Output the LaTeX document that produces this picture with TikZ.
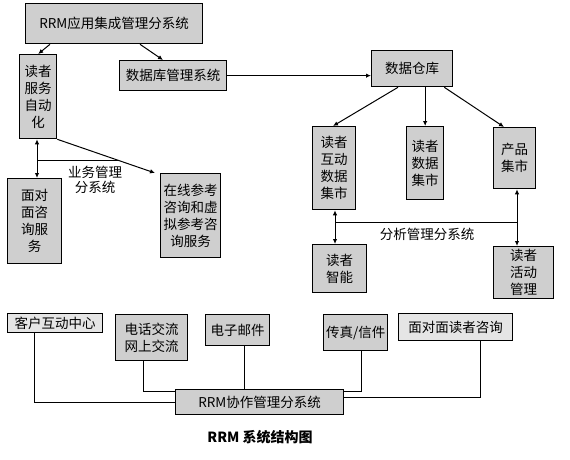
\documentclass[tikz,border=0pt]{standalone}
\usepackage{fontspec}
\newfontfamily\cjk{Noto Sans CJK SC}
\usetikzlibrary{arrows.meta,positioning}

\begin{document}
\begin{tikzpicture}[x=1pt, y=-1pt,
    box/.style={draw, line width=1.3pt, fill=gray!38, align=center, inner sep=1pt, anchor=north west, font=\cjk\fontsize{13.5}{17}\selectfont},
    lightbox/.style={box, fill=gray!20},
    arrow/.style={-{Latex[length=5pt,width=4.5pt]}, line width=1pt},
    twoway/.style={{Latex[length=5pt,width=4.5pt]}-{Latex[length=5pt,width=4.5pt]}, line width=1pt},
    wire/.style={line width=1pt},
    lbl/.style={align=center, font=\cjk\fontsize{13.5}{15}\selectfont}
  ]
    \useasboundingbox (0,0) rectangle (570,460);
    % application integration part
    \node[box, minimum width=177pt, minimum height=40pt] (integ) at (25,3) {RRM应用集成管理分系统};
    \node[box, minimum width=37pt, minimum height=84pt] (svcauto) at (19,54) {读者\\服务\\自动\\化};
    \node[box, minimum width=107pt, minimum height=30pt] (dbms) at (119,60) {数据库管理系统};
    \node[box, minimum width=54pt, minimum height=85pt] (f2f) at (7,178) {面对\\面咨\\询服\\务};
    \node[box, minimum width=60pt, minimum height=84pt] (online) at (160,173) {在线参考\\咨询和虚\\拟参考咨\\询服务};
    % warehouse part
    \node[box, minimum width=81pt, minimum height=36pt] (dw) at (371,50) {数据仓库};
    \node[box, minimum width=43pt, minimum height=83pt] (interact) at (312,126) {读者\\互动\\数据\\集市};
    \node[box, minimum width=37pt, minimum height=73pt] (readerdata) at (406,126) {读者\\数据\\集市};
    \node[box, minimum width=42pt, minimum height=61pt] (product) at (493,127) {产品\\集市};
    \node[box, minimum width=54pt, minimum height=48pt] (intel) at (312,244) {读者\\智能};
    \node[box, minimum width=60pt, minimum height=52pt] (activity) at (493,246) {读者\\活动\\管理};
    % collaboration part
    \node[lightbox, minimum width=95pt, minimum height=19pt] (center) at (7,313) {客户互动中心};
    \node[box, minimum width=72pt, minimum height=46pt] (phone) at (115,314) {电话交流\\网上交流};
    \node[box, minimum width=64pt, minimum height=31pt] (email) at (205,314) {电子邮件};
    \node[box, minimum width=64pt, minimum height=36pt] (fax) at (323,314) {传真/信件};
    \node[lightbox, minimum width=114pt, minimum height=27pt] (f2fq) at (398,313) {面对面读者咨询};
    \node[box, minimum width=168pt, minimum height=25pt] (collab) at (175,389) {RRM协作管理分系统};

    \draw[arrow] ([xshift=25pt]integ.south west) -- (svcauto.north);
    \draw[arrow] ([xshift=115pt]integ.south west) -- ([xshift=44pt]dbms.north west);
    \draw[arrow] (dbms.east) -- (dbms.east -| dw.west);
    \draw[arrow] ([xshift=27pt]dw.south west) -- ([xshift=21pt]interact.north west);
    \draw[arrow] (dw.south -| readerdata.north) -- (readerdata.north);
    \draw[arrow] ([xshift=-9pt]dw.south east) -- ([xshift=11pt]product.north west);

    % business management
    \coordinate (bizL) at (37,160);
    \coordinate (bizR) at (118,160);
    \draw[twoway] ([xshift=18pt]svcauto.south west) -- ([xshift=30pt]f2f.north west);
    \draw[arrow] (svcauto.south east) -- ([xshift=-5pt]online.north west);
    \draw[wire] (bizL) -- (bizR);
    \node[lbl] (bizlbl) at (95,180) {业务管理\\分系统};

    % analysis management
    \coordinate (anaL) at (335,222);
    \coordinate (anaR) at (517,222);
    \draw[twoway] ([xshift=23pt]interact.south west) -- ([xshift=23pt]intel.north west);
    \draw[twoway] ([xshift=24pt]product.south west) -- ([xshift=24pt]activity.north west);
    \draw[wire] (anaL) -- (anaR);
    \node[lbl] (analbl) at (427,234) {分析管理分系统};

    % collaboration wires
    \draw[wire] ([xshift=27pt]center.south west) |- (collab.west);
    \draw[wire] ([xshift=28pt]phone.south west) |- ([yshift=-2pt]collab.north west);
    \draw[wire] ([xshift=39pt]email.south west) -- ([xshift=39pt]email.south west |- collab.north);
    \draw[wire] ([xshift=38pt]fax.south west) |- ([yshift=-2pt]collab.north east);
    \draw[wire] ([xshift=82pt]f2fq.south west) |- ([yshift=-8pt]collab.north east);

    \node[font=\cjk\bfseries\fontsize{14}{16}\selectfont] (caption) at (260,437) {RRM 系统结构图};
  \end{tikzpicture}
\end{document}
